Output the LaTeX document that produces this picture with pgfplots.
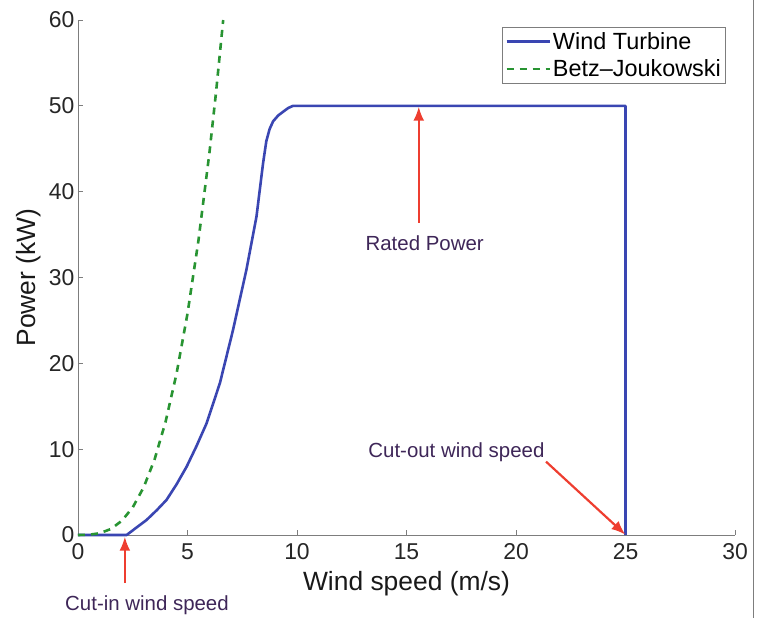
\documentclass[border=0pt]{standalone}
\usepackage{pgfplots}
\pgfplotsset{compat=1.18}
\usetikzlibrary{arrows.meta}
\usepackage{fontspec}
\setmainfont{Liberation Sans}
\definecolor{wtblue}{RGB}{58,70,178}
\definecolor{betzgreen}{RGB}{40,148,50}
\definecolor{arrred}{RGB}{238,62,48}
\definecolor{annot}{RGB}{62,38,88}
\definecolor{axgray}{RGB}{125,125,125}
\begin{document}
\begin{tikzpicture}
\useasboundingbox (-78bp,-83bp) rectangle (686bp,535bp);
\begin{axis}[
  at={(0,0)}, anchor=south west,
  scale only axis, width=657bp, height=515bp,
  xmin=0, xmax=30, ymin=0, ymax=60,
  axis lines=left, axis line style={axgray, line width=1pt, -},
  xtick={0,5,...,30}, ytick={0,10,...,60},
  tick style={axgray, line width=0.8pt}, tick align=inside, major tick length=5bp,
  tick label style={font=\fontsize{23}{25}\selectfont, text=black!85},
  /pgf/number format/assume math mode=true,
  xticklabel style={yshift=-5bp},
  yticklabel style={xshift=0bp},
  xlabel={Wind speed (m/s)}, ylabel={Power (kW)},
  label style={font=\fontsize{26.5}{28}\selectfont, text=black!90},
  xlabel style={at={(axis description cs:0.5,0)}, anchor=base, yshift=-55bp},
  ylabel style={at={(axis description cs:-0.0654,0.5)}, anchor=base},
  legend style={at={(axis cs:29.6,59.2)}, anchor=north east, draw=axgray, line width=0.8pt,
    font=\fontsize{23.5}{25}\selectfont, inner sep=3bp, row sep=5bp,
    /tikz/every even column/.append style={column sep=3bp}},
  legend cell align=left,
  legend image code/.code={\draw[#1] (0bp,0bp) -- (43bp,0bp);},
  clip=false,
]
\addplot[wtblue, line width=2.6bp, line join=round] coordinates {
 (0,0) (2.22,0) (3.13,1.75) (3.6,2.9) (4.04,4.08) (4.5,5.9) (4.96,7.96) (5.4,10.3) (5.87,13.0) (6.48,17.7)
 (7.08,23.9) (7.69,30.9) (8.15,37.1) (8.45,43.3) (8.6,45.9) (8.75,47.3) (8.91,48.2)
 (9.15,48.9) (9.36,49.3) (9.6,49.75) (9.82,50.0) (10,50) (25,50) (25,0)
};
\addlegendentry{Wind Turbine}
\addplot[betzgreen, line width=2.6bp, dash pattern=on 7bp off 6bp] coordinates {
 (0,0) (0.5,0.03) (1,0.21) (1.5,0.70) (2,1.65) (2.5,3.22) (3,5.56) (3.5,8.83)
 (4,13.2) (4.5,18.8) (5,25.8) (5.5,34.3) (6,44.5) (6.3,51.5) (6.63,60)
};
\addlegendentry{Betz{\textendash}Joukowski}
\draw[arrred, line width=2.2pt, -{Latex[length=14bp,width=11bp]}] (axis cs:2.14,-5.6) -- (axis cs:2.14,-0.2);
\node[annot, font=\fontsize{20.5}{22}\selectfont] at (axis cs:3.15,-8.2) {Cut-in wind speed};
\draw[arrred, line width=2.2pt, -{Latex[length=14bp,width=11bp]}] (axis cs:15.56,36.4) -- (axis cs:15.56,49.9);
\node[annot, font=\fontsize{20.5}{22}\selectfont] at (axis cs:15.83,34.0) {Rated Power};
\draw[arrred, line width=2.2pt, -{Latex[length=14bp,width=11bp]}] (axis cs:21.37,8.55) -- (axis cs:24.99,0.05);
\node[annot, font=\fontsize{20.5}{22}\selectfont] at (axis cs:17.28,9.67) {Cut-out wind speed};
\end{axis}
\draw[axgray, line width=1pt] (675bp,-83bp) -- (675bp,535bp);
\end{tikzpicture}
\end{document}
